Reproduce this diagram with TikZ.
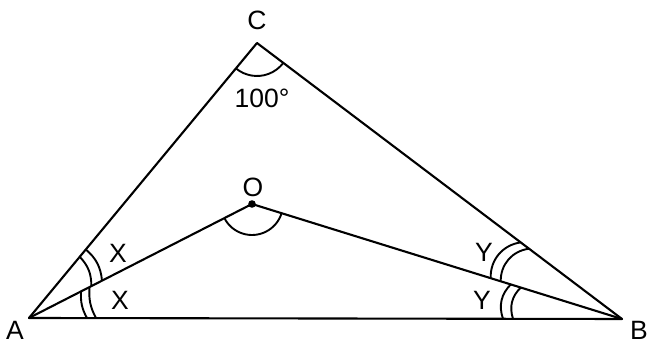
\documentclass[tikz,border=0pt]{standalone}
\usepackage{fontspec}
\setmainfont{Liberation Sans}
\usetikzlibrary{angles,calc}
\begin{document}
\begin{tikzpicture}[x=1pt,y=1pt,
  edge/.style={line width=2.1pt,line cap=round,line join=round},
  arcm/.style={draw,line width=1.9pt},
  lbl/.style={font=\fontsize{26.5}{26.5}\selectfont,inner sep=0pt}]
\useasboundingbox (0,0) rectangle (649,345);
\coordinate (A) at (29,27);
\coordinate (B) at (622,26);
\coordinate (C) at (257,302);
\coordinate (O) at (252,141);
\draw[edge] (A) -- (B) -- (C) -- cycle;
\draw[edge] (A) -- (O) -- (B);
\fill (O) circle (3.8pt);
% angle marks at A
\draw[arcm] ($(A)!58pt!(B)$) to[bend left=16] ($(A)!58.5pt!(O)$);
\draw[arcm] ($(A)!67pt!(B)$) to[bend left=16] ($(A)!68pt!(O)$);
\draw[arcm] ($(A)!70pt!(O)$) to[bend right=22] ($(A)!79.5pt!(C)$);
\draw[arcm] ($(A)!82pt!(O)$) to[bend right=22] ($(A)!89pt!(C)$);
% angle marks at B
\draw[arcm] ($(B)!109pt!(A)$) to[bend left=32] ($(B)!106pt!(O)$);
\draw[arcm] ($(B)!119pt!(A)$) to[bend left=32] ($(B)!116.5pt!(O)$);
\draw[arcm] ($(B)!127pt!(O)$) to[bend left=42] ($(B)!116.5pt!(C)$);
\draw[arcm] ($(B)!137.5pt!(O)$) to[bend left=42] ($(B)!127pt!(C)$);
% C and O
\pic[arcm,angle radius=33pt] {angle=A--C--B};
\pic[arcm,angle radius=31pt] {angle=A--O--B};
% labels
\node[lbl] (lA) at (15,15) {A};
\node[lbl] (lB) at (639,15) {B};
\node[lbl] (lC) at (257,325) {C};
\node[lbl] (lO) at (253,158) {O};
\node[lbl] (l100) at (262,247) {100°};
\node[lbl] (lX1) at (118,92) {X};
\node[lbl] (lX2) at (120,45) {X};
\node[lbl] (lY1) at (484,93) {Y};
\node[lbl] (lY2) at (482,45) {Y};
\end{tikzpicture}
\end{document}
